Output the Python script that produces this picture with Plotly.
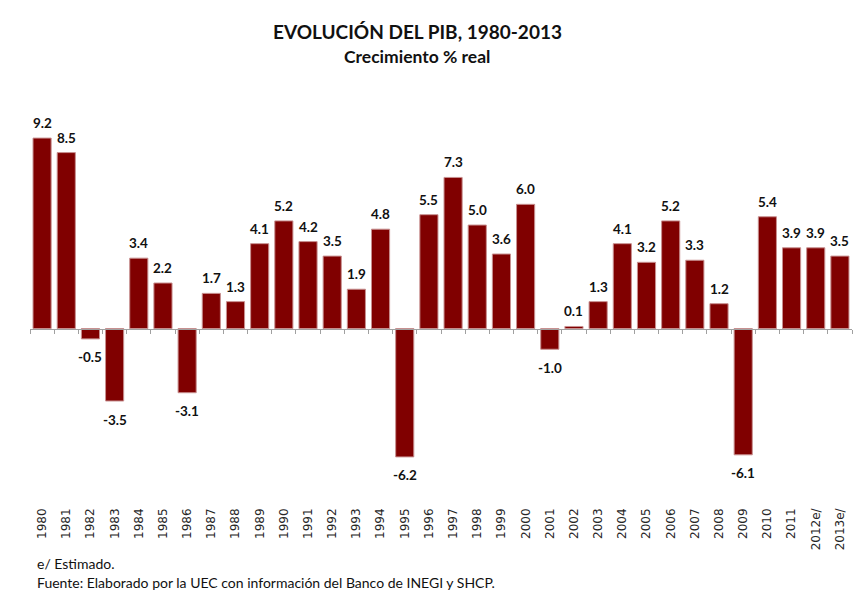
import plotly.graph_objects as go

years = ["1980", "1981", "1982", "1983", "1984", "1985", "1986", "1987", "1988", "1989",
         "1990", "1991", "1992", "1993", "1994", "1995", "1996", "1997", "1998", "1999",
         "2000", "2001", "2002", "2003", "2004", "2005", "2006", "2007", "2008", "2009",
         "2010", "2011", "2012e/", "2013e/"]
growth = [9.2, 8.5, -0.5, -3.5, 3.4, 2.2, -3.1, 1.7, 1.3, 4.1,
          5.2, 4.2, 3.5, 1.9, 4.8, -6.2, 5.5, 7.3, 5.0, 3.6,
          6.0, -1.0, 0.1, 1.3, 4.1, 3.2, 5.2, 3.3, 1.2, -6.1,
          5.4, 3.9, 3.9, 3.5]
labels = [f"{v:.1f}" for v in growth]

title = "EVOLUCIÓN DEL PIB, 1980-2013"
subtitle = "Crecimiento % real"
note1 = "e/ Estimado."
note2 = "Fuente: Elaborado por la UEC con información del Banco de INEGI y SHCP."

YMIN, YMAX = -8.04, 11.04
zero_pos = (0 - YMIN) / (YMAX - YMIN)

W, H = 861, 600
l, r, t, b = 30, 9, 100, 105
pw, ph = W - l - r, H - t - b

fig = go.Figure()
fig.add_trace(go.Bar(
    x=years, y=growth,
    marker=dict(color="#800000", line=dict(color="#c89090", width=1)),
    hoverinfo="x+y",
))
fig.add_trace(go.Bar(x=years, y=[None] * len(years), xaxis="x2", showlegend=False,
                     hoverinfo="skip"))

# value labels above positive bars, below negative bars (x = category index)
for i, (v, lab) in enumerate(zip(growth, labels)):
    fig.add_annotation(
        x=i, y=v, xref="x", yref="y", text=f"<b>{lab}</b>", showarrow=False,
        yanchor="middle", yshift=15 if v >= 0 else -18.5,
        font=dict(family="Lato, sans-serif", size=13.5, color="#111111"))

fig.update_layout(
    width=W, height=H,
    margin=dict(l=l, r=r, t=t, b=b, autoexpand=False),
    paper_bgcolor="white", plot_bgcolor="white",
    bargap=0.25, showlegend=False,
    xaxis=dict(type="category", categoryorder="array", categoryarray=years,
               range=[-0.5, len(years) - 0.5], autorange=False,
               tickangle=-90, showline=False, ticks="",
               showgrid=False, automargin=False, ticklabelstandoff=10,
               tickfont=dict(family="DejaVu Sans, sans-serif", size=12, color="#262626")),
    xaxis2=dict(type="category", overlaying="x", anchor="free", position=zero_pos,
                side="bottom", showticklabels=False, showline=True, linecolor="#a0a0a0",
                linewidth=1, ticks="outside", tickson="boundaries", ticklen=4,
                tickcolor="#a0a0a0", showgrid=False, matches="x", automargin=False),
    yaxis=dict(range=[YMIN, YMAX], visible=False, showgrid=False, zeroline=False,
               automargin=False),
)

def px_ann(text, px, py, size, bold=False, anchor="center"):
    fig.add_annotation(
        text=f"<b>{text}</b>" if bold else text,
        xref="paper", yref="paper",
        x=(px - l) / pw, y=(H - b - py) / ph,
        xanchor=anchor, yanchor="middle", showarrow=False,
        font=dict(family="Lato, sans-serif", size=size, color="#111111"))

px_ann(title, 417, 32, 19, bold=True)
px_ann(subtitle, 417, 56, 17.5, bold=True)
px_ann(note1, 35, 563, 14, anchor="left")
px_ann(note2, 35, 582, 14, anchor="left")

fig.write_html("out.html", config={"displayModeBar": False},
               post_script="document.body.style.margin='0';document.body.style.overflow='hidden';")
